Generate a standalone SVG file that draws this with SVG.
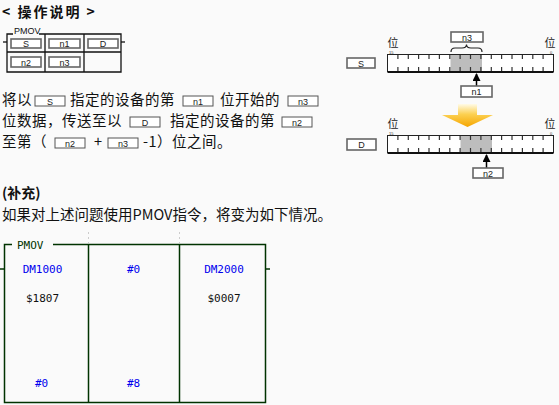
<svg xmlns="http://www.w3.org/2000/svg" width="559" height="405" viewBox="0 0 559 405">
<defs>
<linearGradient id="ya" x1="0" y1="0" x2="0" y2="1">
<stop offset="0" stop-color="#fffbe8"/>
<stop offset="0.45" stop-color="#fcd050"/>
<stop offset="1" stop-color="#f5a500"/>
</linearGradient>
<marker id="ah" viewBox="0 0 8 8" refX="7" refY="4" markerWidth="8" markerHeight="8" markerUnits="userSpaceOnUse" orient="auto">
<path d="M0,0 L8,4 L0,8 z" fill="#000"/>
</marker>
</defs>
<style>
.cjk{font-family:"Noto Sans CJK SC","Noto Sans",sans-serif;font-size:14.5px;letter-spacing:0.5px;fill:#111}
.ttl{font-family:"Noto Sans CJK SC","Noto Sans",sans-serif;font-size:14px;font-weight:bold;fill:#111}
.bx{fill:#fff;stroke:#555;stroke-width:1}
.ib{fill:#fff;stroke:#666;stroke-width:1.6}
.bt{font-family:"Liberation Sans",Arial,sans-serif;font-size:9px;fill:#222;text-anchor:middle}
.ln{stroke:#111;stroke-width:1.3;fill:none}
.bar{fill:#fff;stroke:#222;stroke-width:1}
.tk{stroke:#333;stroke-width:1.2}
.gr{fill:#bdbdbd}
.wei{font-family:"Noto Sans CJK SC",sans-serif;font-size:11px;fill:#222}
.tiny{font-family:"Liberation Sans",sans-serif;font-size:4px;fill:#333}
.lad{stroke:#003300;stroke-width:1.5;fill:none}
.mono{font-family:"DejaVu Sans Mono","Liberation Mono",monospace;font-size:11px;text-anchor:middle}
.blue{fill:#0000ee}
.blk{fill:#111}
</style>
<rect x="0" y="0" width="559" height="405" fill="#fafafa"/>

<text class="ttl" x="2" y="17" style="letter-spacing:2px">&lt; 操作说明 &gt;</text>

<g id="pmov-box">
<line class="ln" x1="3" y1="42" x2="7" y2="42"/>
<line class="ln" x1="121" y1="42" x2="125" y2="42"/>
<path class="ln" d="M13,34 L7,34 L7,72 L121,72 L121,34 L39,34"/>
<line class="ln" x1="7" y1="52" x2="121" y2="52"/>
<line class="ln" x1="45" y1="34" x2="45" y2="72"/>
<line class="ln" x1="84" y1="34" x2="84" y2="72"/>
<text x="14" y="34" font-family="Liberation Sans,Arial,sans-serif" font-size="9" fill="#111">PMOV</text>
<rect class="ib" x="11" y="39" width="30" height="9"/><text class="bt" x="26" y="47">S</text>
<rect class="ib" x="49" y="39" width="31" height="9"/><text class="bt" x="64.5" y="47">n1</text>
<rect class="ib" x="88" y="39" width="30" height="9"/><text class="bt" x="103" y="47">D</text>
<rect class="ib" x="11" y="57" width="30" height="10"/><text class="bt" x="26" y="65.5">n2</text>
<rect class="ib" x="49" y="57" width="31" height="10"/><text class="bt" x="64.5" y="65.5">n3</text>
</g>

<g id="desc">
<text class="cjk" x="2" y="105">将以</text>
<rect class="bx" x="35" y="96" width="30" height="10"/><text class="bt" x="50" y="104.5">S</text>
<text class="cjk" x="70" y="105">指定的设备的第</text>
<rect class="bx" x="183" y="96" width="30" height="10"/><text class="bt" x="198" y="104.5">n1</text>
<text class="cjk" x="220" y="105">位开始的</text>
<rect class="bx" x="288" y="96" width="30" height="10"/><text class="bt" x="303" y="104.5">n3</text>

<text class="cjk" x="2" y="126">位数据，传送至以</text>
<rect class="bx" x="130" y="117" width="30" height="10"/><text class="bt" x="145" y="125.5">D</text>
<text class="cjk" x="170" y="126">指定的设备的第</text>
<rect class="bx" x="282" y="117" width="30" height="10"/><text class="bt" x="297" y="125.5">n2</text>

<text class="cjk" x="2" y="147">至第（</text>
<rect class="bx" x="55" y="138" width="30" height="10"/><text class="bt" x="70" y="146.5">n2</text>
<text class="cjk" x="94" y="147">+</text>
<rect class="bx" x="108" y="138" width="30" height="10"/><text class="bt" x="123" y="146.5">n3</text>
<text class="cjk" x="143" y="147">-1）位之间。</text>
</g>

<g id="src-bar">
<rect class="ib" x="347" y="58" width="28" height="10"/><text class="bt" x="361" y="66.5">S</text>
<text class="wei" x="387.5" y="46.5">位</text><text class="tiny" x="389" y="54">15</text>
<text class="wei" x="544.5" y="46.5">位</text><text class="tiny" x="550" y="54">0</text>
<rect class="bar" x="387.5" y="54.5" width="166" height="17"/>
<rect class="gr" x="450.5" y="55" width="31.5" height="16"/>
<line x1="387.5" y1="72" x2="553.5" y2="72" stroke="#111" stroke-width="2"/>
<g class="tk">
<path d="M397.9,55v4M408.3,55v4M418.6,55v4M429,55v4M439.4,55v4M449.8,55v4M460.1,55v4M470.5,55v4M480.9,55v4M491.3,55v4M501.6,55v4M512,55v4M522.4,55v4M532.8,55v4M543.1,55v4"/>
<path d="M397.9,67v4M408.3,67v4M418.6,67v4M429,67v4M439.4,67v4M449.8,67v4M460.1,67v4M470.5,67v4M480.9,67v4M491.3,67v4M501.6,67v4M512,67v4M522.4,67v4M532.8,67v4M543.1,67v4"/>
</g>
<path d="M451,52 Q451,48 455,48 L462,48 Q466.5,48 466.5,44.5 Q466.5,48 471,48 L478,48 Q482,48 482,52" fill="none" stroke="#222" stroke-width="1.2"/>
<rect class="ib" x="451" y="32" width="32" height="10"/><text class="bt" x="467" y="40.5">n3</text>
<line x1="476.5" y1="86" x2="476.5" y2="74" stroke="#000" stroke-width="1.5" marker-end="url(#ah)"/>
<rect class="ib" x="461" y="86" width="31" height="11"/><text class="bt" x="476.5" y="95">n1</text>
</g>

<g id="move-arrow">
<path d="M458,104 L477,104 L477,115 L493,115 L467.5,127 L442,115 L458,115 Z" fill="url(#ya)"/>
</g>

<g id="dst-bar">
<rect class="ib" x="347" y="139" width="29" height="11"/><text class="bt" x="361.5" y="148">D</text>
<text class="wei" x="387.5" y="127.5">位</text><text class="tiny" x="389" y="135">15</text>
<text class="wei" x="544.5" y="127.5">位</text><text class="tiny" x="550" y="135">0</text>
<rect class="bar" x="387.5" y="135.5" width="166" height="17"/>
<rect class="gr" x="460.5" y="136" width="31.5" height="16"/>
<line x1="387.5" y1="153" x2="553.5" y2="153" stroke="#111" stroke-width="2"/>
<g class="tk">
<path d="M397.9,136v4M408.3,136v4M418.6,136v4M429,136v4M439.4,136v4M449.8,136v4M460.1,136v4M470.5,136v4M480.9,136v4M491.3,136v4M501.6,136v4M512,136v4M522.4,136v4M532.8,136v4M543.1,136v4"/>
<path d="M397.9,148v4M408.3,148v4M418.6,148v4M429,148v4M439.4,148v4M449.8,148v4M460.1,148v4M470.5,148v4M480.9,148v4M491.3,148v4M501.6,148v4M512,148v4M522.4,148v4M532.8,148v4M543.1,148v4"/>
</g>
<line x1="486.5" y1="168" x2="486.5" y2="155" stroke="#000" stroke-width="1.5" marker-end="url(#ah)"/>
<rect class="ib" x="473" y="168" width="30" height="10"/><text class="bt" x="488" y="176.5">n2</text>
</g>

<g id="supplement">
<text class="ttl" x="2" y="198">(补充)</text>
<text class="cjk" x="2" y="220" style="letter-spacing:0">如果对上述问题使用PMOV指令，将变为如下情况。</text>
</g>

<g id="ladder">
<line x1="88.5" y1="232" x2="88.5" y2="243" stroke="#ccc" stroke-dasharray="2,3"/>
<line x1="179.5" y1="232" x2="179.5" y2="243" stroke="#ccc" stroke-dasharray="2,3"/>
<path class="lad" d="M12,244.5 L4.5,244.5 L4.5,402.5 L265.5,402.5 L265.5,244.5 L53,244.5"/>
<line class="lad" x1="88.5" y1="244.5" x2="88.5" y2="402.5"/>
<line class="lad" x1="179.5" y1="244.5" x2="179.5" y2="402.5"/>
<line class="lad" x1="0" y1="269" x2="4.5" y2="269"/>
<line class="lad" x1="265.5" y1="269" x2="270" y2="269"/>
<text x="17" y="248.5" font-family="DejaVu Sans Mono,Liberation Mono,monospace" font-size="11" fill="#003300">PMOV</text>
<text class="mono blue" x="42.5" y="273">DM1000</text>
<text class="mono blue" x="133.5" y="273">#0</text>
<text class="mono blue" x="224" y="273">DM2000</text>
<text class="mono blk" x="42.5" y="302">$1807</text>
<text class="mono blk" x="224" y="302">$0007</text>
<text class="mono blue" x="41.5" y="387">#0</text>
<text class="mono blue" x="133.5" y="387">#8</text>
</g>
</svg>
